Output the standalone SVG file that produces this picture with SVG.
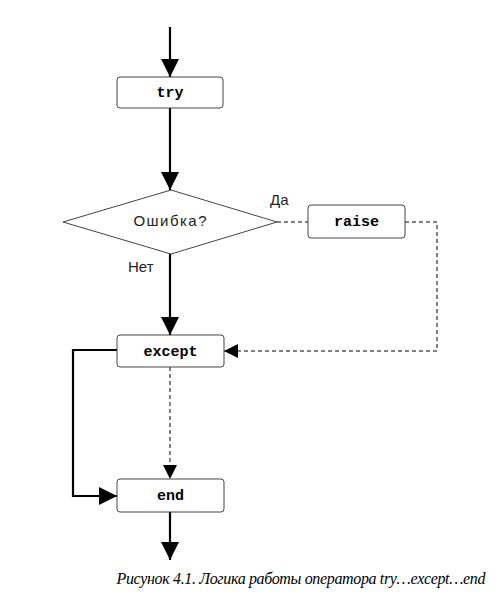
<svg xmlns="http://www.w3.org/2000/svg" width="502" height="598" viewBox="0 0 502 598">
<style>
.box{fill:#fff;stroke:#444;stroke-width:1}
.code{font-family:"Liberation Mono",monospace;font-weight:bold;font-size:15px;text-anchor:middle;fill:#000}
.lbl{font-family:"Liberation Sans",Arial,sans-serif;font-size:15px;fill:#222}
.solid{stroke:#000;stroke-width:2.2;fill:none}
.dash{stroke:#000;stroke-width:1;stroke-dasharray:4,3;fill:none}
</style>
<defs>
<marker id="ah" viewBox="0 0 18 18" refX="18" refY="9" markerWidth="18" markerHeight="18" markerUnits="userSpaceOnUse" orient="auto">
<path d="M0,0 L18,9 L0,18 Z" fill="#000"/>
</marker>
<marker id="ahs" viewBox="0 0 14 14" refX="14" refY="7" markerWidth="14" markerHeight="14" markerUnits="userSpaceOnUse" orient="auto">
<path d="M0,0 L14,7 L0,14 Z" fill="#000"/>
</marker>
</defs>
<rect width="502" height="598" fill="#fff"/>
<g id="connectors">
<line class="solid" x1="170" y1="27" x2="170" y2="77" marker-end="url(#ah)"/>
<line class="solid" x1="170" y1="108" x2="170" y2="190" marker-end="url(#ah)"/>
<line class="solid" x1="170" y1="254" x2="170" y2="335" marker-end="url(#ah)"/>
<polyline class="solid" points="117,350 73,350 73,496 117,496" marker-end="url(#ah)"/>
<line class="solid" x1="170" y1="512" x2="170" y2="560" marker-end="url(#ah)"/>
<line class="dash" x1="277" y1="222" x2="308" y2="222"/>
<polyline class="dash" points="405,222 437,222 437,351 224,351" marker-end="url(#ahs)"/>
<line class="dash" x1="170" y1="367" x2="170" y2="479" marker-end="url(#ahs)"/>
</g>
<g id="try">
<rect class="box" x="117" y="77" width="106" height="31" rx="3"/>
<text class="code" x="170" y="97">try</text>
</g>
<g id="decision">
<polygon class="box" points="63,222 171,190 277,222 171,254"/>
<text class="lbl" x="170" y="226" text-anchor="middle" textLength="73">Ошибка?</text>
<text class="lbl" x="270" y="205">Да</text>
<text class="lbl" x="128" y="272">Нет</text>
</g>
<g id="raise">
<rect class="box" x="308" y="205" width="97" height="33" rx="3"/>
<text class="code" x="356.5" y="226">raise</text>
</g>
<g id="except">
<rect class="box" x="117" y="335" width="107" height="32" rx="3"/>
<text class="code" x="170.5" y="356">except</text>
</g>
<g id="end">
<rect class="box" x="117" y="479" width="107" height="33" rx="3"/>
<text class="code" x="170.5" y="500">end</text>
</g>
<text x="301" y="584" font-family="Liberation Serif,serif" font-style="italic" font-size="16" text-anchor="middle" textLength="369">Рисунок 4.1. Логика работы оператора try…except…end</text>
</svg>
